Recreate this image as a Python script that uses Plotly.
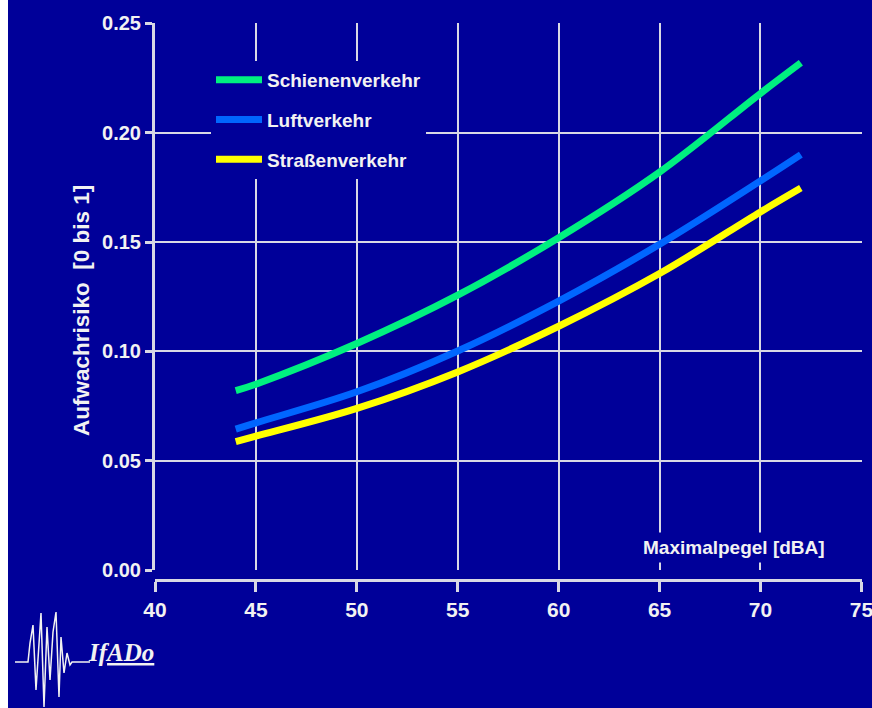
import plotly.graph_objects as go

# ---- data ----
x_db = [44, 45, 50, 55, 60, 65, 70, 72]
schiene = [0.082, 0.085, 0.1036, 0.1257, 0.152, 0.182, 0.218, 0.232]
luft = [0.0644, 0.0673, 0.0815, 0.1002, 0.123, 0.149, 0.178, 0.190]
strasse = [0.0587, 0.0612, 0.0739, 0.0906, 0.1115, 0.1356, 0.1638, 0.1747]
series_names = ["Schienenverkehr", "Luftverkehr", "Straßenverkehr"]
series_values = [schiene, luft, strasse]
series_colors = ["#00F080", "#0066FF", "#FFFF00"]
x_ticks = [40, 45, 50, 55, 60, 65, 70, 75]
y_ticks = [0.00, 0.05, 0.10, 0.15, 0.20, 0.25]

W, H = 872, 708
BG = "#000099"
FG = "#F2F2F2"
GRID = "#D8D8E4"
FONT = "Liberation Sans Narrow, Arial Narrow, Liberation Sans, sans-serif"

# plot area in pixels
L, R, T, B = 155, 10, 23, 128
PW = W - L - R
PH = H - T - B


def px(xp):
    return (xp - L) / PW


def py(yp):
    return (H - B - yp) / PH


fig = go.Figure()
for name, vals, col in zip(series_names, series_values, series_colors):
    fig.add_trace(go.Scatter(
        x=x_db, y=vals, name=name, mode="lines",
        line=dict(color=col, width=7, shape="spline", smoothing=1.0),
        legendgroup=name,
    ))

fig.update_layout(
    width=W, height=H,
    margin=dict(l=L, r=R, t=T, b=B, pad=0, autoexpand=False),
    paper_bgcolor=BG, plot_bgcolor=BG,
    font=dict(family=FONT, color=FG, size=20),
    showlegend=True,
    legend=dict(
        x=px(211), y=py(61), xanchor="left", yanchor="top",
        bgcolor=BG, borderwidth=0,
        font=dict(family=FONT, size=19, color=FG, weight="bold"),
        traceorder="grouped", tracegroupgap=12,
        itemwidth=46,
    ),
    xaxis=dict(
        range=[40, 75.03], tickvals=x_ticks, ticktext=[str(v) for v in x_ticks],
        anchor="free", position=0, automargin=False,
        showgrid=True, gridcolor=GRID, gridwidth=2,
        showline=True, linecolor=GRID, linewidth=3,
        ticks="outside", ticklen=10, tickwidth=3, tickcolor=GRID,
        tickfont=dict(family=FONT, size=21, color=FG, weight="bold"),
        ticklabeloverflow="allow",
        zeroline=False,
    ),
    yaxis=dict(
        range=[0, 0.2502], domain=[py(570), 1], tickvals=y_ticks,
        tickformat=".2f", automargin=False,
        showgrid=True, gridcolor=GRID, gridwidth=2,
        showline=True, linecolor=GRID, linewidth=3,
        ticks="outside", ticklen=7, tickwidth=3, tickcolor=GRID,
        tickfont=dict(family=FONT, size=20, color=FG, weight="bold"),
        zeroline=False,
    ),
)

# axis titles
fig.add_annotation(
    xref="paper", yref="paper", x=px(734), y=py(547),
    text="Maximalpegel [dBA]", showarrow=False,
    font=dict(family=FONT, size=19, color=FG, weight="bold"),
    bgcolor=BG, borderpad=4, xanchor="center", yanchor="middle",
)
fig.add_annotation(
    xref="paper", yref="paper", x=px(81), y=py(311),
    text="Aufwachrisiko\u00a0 [0 bis 1]", showarrow=False, textangle=-90,
    font=dict(family=FONT, size=22.5, color=FG, weight="bold"),
    xanchor="center", yanchor="middle",
)

# left white strip of the slide
fig.add_shape(type="rect", xref="paper", yref="paper",
              x0=px(-2), x1=px(8), y0=py(H + 2), y1=py(-2),
              fillcolor="white", line=dict(width=0), layer="above")

# IfADo logo: waveform + text
wave_px = [(15, 662), (28, 662), (30, 643), (33, 625), (36, 690), (41, 613),
           (44, 707), (47, 627), (50, 680), (53, 632), (56, 612), (59, 697),
           (61, 637), (64, 673), (67, 653), (70, 665), (72, 662), (90, 662)]
path = "M " + " L ".join(f"{px(a):.5f},{py(b):.5f}" for a, b in wave_px)
fig.add_shape(type="path", xref="paper", yref="paper", path=path,
              line=dict(color=FG, width=1.5), layer="above")
fig.add_annotation(
    xref="paper", yref="paper", x=px(86), y=py(668),
    text="<i>I<i>f</i><u>ADo</u></i>", showarrow=False,
    font=dict(family="Liberation Serif, Times New Roman, serif", size=25,
              color=FG, weight="bold"),
    xanchor="left", yanchor="bottom",
)

fig.write_html("out.html",
               config={"displayModeBar": False},
               post_script="document.body.style.margin='0';"
                           "document.body.style.overflow='hidden';")
